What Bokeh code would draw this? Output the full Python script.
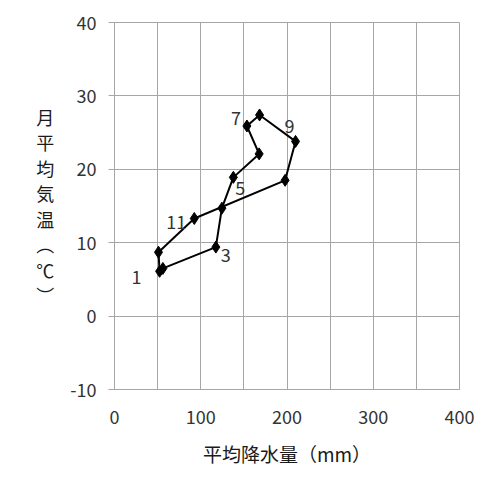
from bokeh.plotting import figure
from bokeh.models import ColumnDataSource, Range1d, SingleIntervalTicker
from bokeh.core.properties import value
from bokeh.embed import file_html
from bokeh.resources import INLINE

months = [1, 2, 3, 4, 5, 6, 7, 8, 9, 10, 11, 12]
precip = [52.3, 56.1, 117.5, 124.5, 137.8, 167.7, 153.5, 168.2, 209.9, 197.8, 92.5, 51.0]
temp = [6.1, 6.5, 9.4, 14.7, 18.9, 22.1, 25.9, 27.4, 23.8, 18.5, 13.3, 8.7]
label_months = [1, 3, 5, 7, 9, 11]
label_dx = [-23, 10, 7, -11, -6, -18]
label_dy = [6, 8, 11, -8, -15, 4]
y_ticks = [-10, 0, 10, 20, 30, 40]

FONT = "Noto Sans CJK JP"
GRID = "#a6a6a6"

p = figure(width=484, height=474, output_backend="svg", toolbar_location=None,
           x_range=Range1d(0, 400), y_range=Range1d(-10, 40),
           min_border_left=114, min_border_right=25, min_border_top=22, min_border_bottom=85)

# closed loop
lx = precip + [precip[0]]
ly = temp + [temp[0]]
p.line(lx, ly, line_color="black", line_width=2)
p.scatter(precip, temp, marker="diamond", size=12, color="black")

idx = [months.index(m) for m in label_months]
src = ColumnDataSource(dict(x=[precip[i] for i in idx], y=[temp[i] for i in idx],
                            t=[str(m) for m in label_months], dx=label_dx, dy=label_dy))
p.text(x="x", y="y", text="t", x_offset="dx", y_offset="dy", source=src,
       text_font=value(FONT), text_font_size="18px", text_color="#333333",
       text_align="center", text_baseline="middle")

p.xaxis.ticker = SingleIntervalTicker(interval=100, num_minor_ticks=2)
p.yaxis.ticker = SingleIntervalTicker(interval=10, num_minor_ticks=0)
p.yaxis.major_label_overrides = {t: str(t) for t in y_ticks}

for ax in (p.xaxis[0], p.yaxis[0]):
    ax.axis_line_color = GRID
    ax.major_tick_line_color = GRID
    ax.minor_tick_line_color = None
    ax.major_label_text_font = FONT
    ax.major_label_text_font_size = "18px"
    ax.major_label_text_color = "#333333"
    ax.axis_label_text_font = FONT
    ax.axis_label_text_font_style = "normal"
    ax.axis_label_text_color = "#1a1a1a"

p.xaxis.major_tick_out = 0
p.xaxis.major_tick_in = 0
p.xaxis.major_label_standoff = 16
p.xaxis.axis_label = "平均降水量（mm）"
p.xaxis.axis_label_standoff = 13
p.xaxis.axis_label_text_font_size = "19px"

p.yaxis.major_tick_out = 6
p.yaxis.major_tick_in = 0
p.yaxis.major_label_standoff = 12
p.yaxis.axis_label = "月\n平\n均\n気\n温\n︵\n℃\n︶"
p.yaxis.axis_label_orientation = "horizontal"
p.yaxis.axis_label_standoff = 13
p.yaxis.axis_label_text_font_size = "18px"
p.yaxis.axis_label_text_line_height = 0.98

p.xgrid.grid_line_color = GRID
p.xgrid.minor_grid_line_color = GRID
p.ygrid.grid_line_color = GRID
p.outline_line_color = GRID

open("out.html", "w").write(file_html(p, INLINE))
